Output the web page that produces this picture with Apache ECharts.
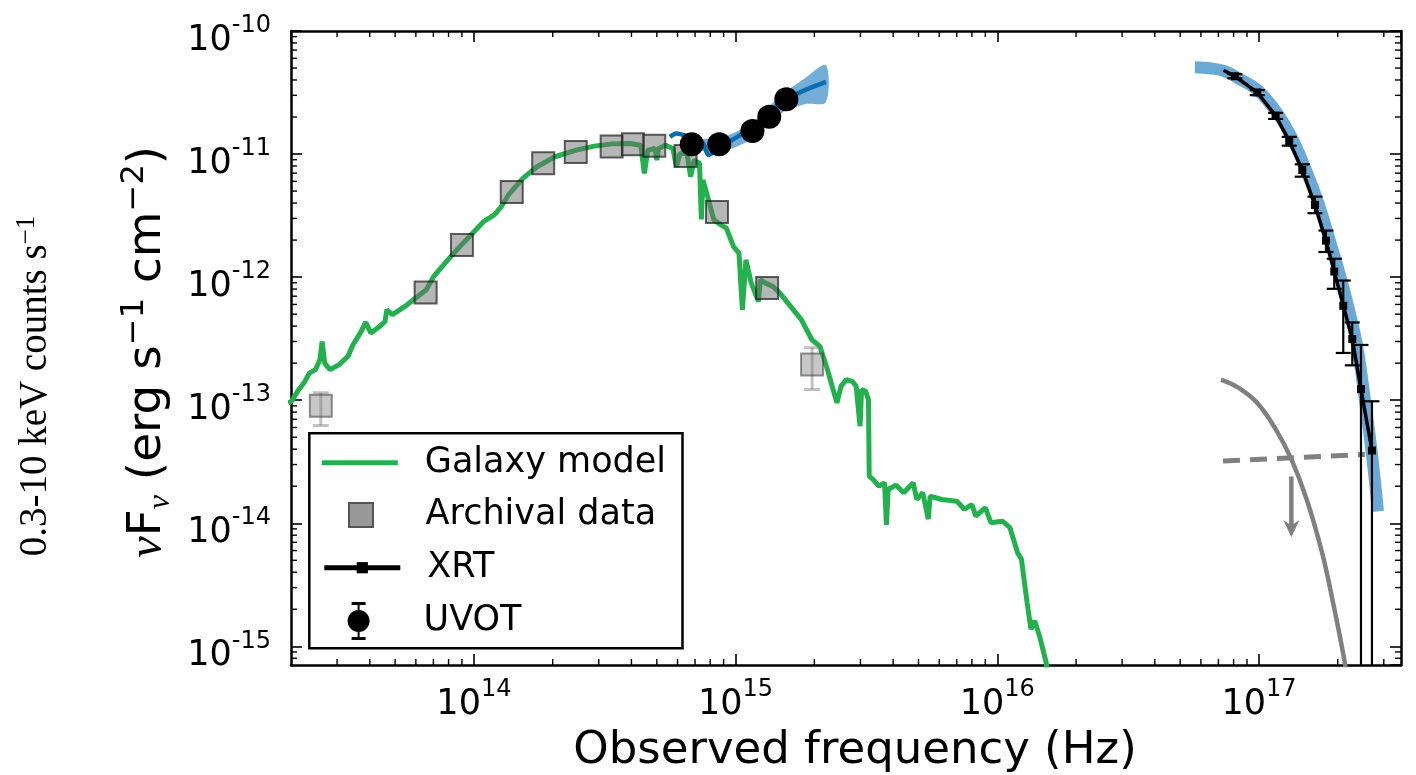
<!DOCTYPE html>
<html><head><meta charset="utf-8">
<script src="https://cdn.jsdelivr.net/npm/echarts@6/dist/echarts.min.js"></script>
<style>html,body{margin:0;padding:0;background:#fff}#c{width:1416px;height:775px}</style>
</head><body><div id="c"></div>
<script>
// ---------- data ----------
const galaxyNu = [1.95e13,2.01e13,2.12e13,2.26e13,2.35e13,2.48e13,2.58e13,2.63e13,2.69e13,2.82e13,3.05e13,3.30e13,3.45e13,3.68e13,3.86e13,4.04e13,4.37e13,4.57e13,4.65e13,4.88e13,5.45e13,5.99e13,6.58e13,7.01e13,7.95e13,8.73e13,9.90e13,1.088e14,1.196e14,1.272e14,1.356e14,1.538e14,1.742e14,2.04e14,2.46e14,2.88e14,3.37e14,3.95e14,4.34e14,4.48e14,4.62e14,4.92e14,5.0e14,5.08e14,5.40e14,5.76e14,5.94e14,6.13e14,6.52e14,6.73e14,6.95e14,7.28e14,7.40e14,7.50e14,7.63e14,7.88e14,8.26e14,8.79e14,9.22e14,9.82e14,1.03e15,1.062e15,1.095e15,1.148e15,1.223e15,1.243e15,1.302e15,1.388e15,1.477e15,1.623e15,1.783e15,1.957e15,2.10e15,2.245e15,2.32e15,2.44e15,2.53e15,2.65e15,2.79e15,2.89e15,2.99e15,3.03e15,3.14e15,3.22e15,3.24e15,3.35e15,3.53e15,3.71e15,3.77e15,3.83e15,4.10e15,4.39e15,4.77e15,4.93e15,5.19e15,5.45e15,5.54e15,6.13e15,7.01e15,7.49e15,8.00e15,8.28e15,9.00e15,9.46e15,1.046e16,1.118e16,1.196e16,1.237e16,1.30e16,1.345e16,1.391e16,1.462e16,1.537e16,1.58e16];
const galaxyFlux = [9.5e-14,9.80e-14,1.18e-13,1.42e-13,1.66e-13,1.77e-13,2.13e-13,3.0e-13,2.0e-13,1.77e-13,1.94e-13,2.27e-13,2.82e-13,3.51e-13,4.30e-13,3.51e-13,3.98e-13,4.34e-13,5.43e-13,4.95e-13,5.78e-13,6.76e-13,7.89e-13,1.01e-12,1.38e-12,1.72e-12,2.28e-12,2.82e-12,3.20e-12,3.74e-12,4.65e-12,6.35e-12,7.89e-12,9.51e-12,1.077e-11,1.16e-11,1.21e-11,1.22e-11,1.18e-11,6.97e-12,1.077e-11,1.11e-11,8.94e-12,1.11e-11,1.18e-11,1.11e-11,7.89e-12,1.01e-11,1.01e-11,6.55e-12,8.94e-12,8.41e-12,2.95e-12,6.16e-12,5.43e-12,4.24e-12,2.92e-12,2.66e-12,2.50e-12,1.77e-12,1.57e-12,5.43e-13,1.38e-12,8.94e-13,6.34e-13,9.51e-13,8.94e-13,8.39e-13,7.42e-13,5.78e-13,4.51e-13,3.10e-13,2.74e-13,1.77e-13,1.38e-13,9.51e-14,1.30e-13,1.47e-13,1.42e-13,1.30e-13,6.14e-14,1.22e-13,1.18e-13,1.01e-13,2.41e-14,2.27e-14,2.00e-14,2.13e-14,9.68e-15,1.88e-14,2.04e-14,1.77e-14,2.13e-14,1.56e-14,1.77e-14,1.08e-14,1.66e-14,1.56e-14,1.51e-14,1.30e-14,1.42e-14,1.14e-14,1.34e-14,1.01e-14,1.04e-14,9.21e-15,5.77e-15,5.10e-15,2.27e-15,1.38e-15,1.61e-15,1.14e-15,7.40e-16,5.0e-16];

const archNu = [6.54e13,9.0e13,1.395e14,1.84e14,2.45e14,3.36e14,4.05e14,4.89e14,6.44e14,8.49e14,1.32e15];
const archFlux = [7.50e-13,1.82e-12,4.92e-12,8.41e-12,1.04e-11,1.15e-11,1.20e-11,1.17e-11,9.63e-12,3.39e-12,8.15e-13];
const archFaintNu = [2.60e13,1.96e15];
const archFaintFlux = [9.03e-14,1.95e-13];
const archFaintLow = [6.22e-14,1.22e-13];
const archFaintHigh = [1.15e-13,2.67e-13];

const uvotNu = [6.80e14,8.66e14,1.16e15,1.345e15,1.563e15];
const uvotFlux = [1.20e-11,1.20e-11,1.54e-11,2.01e-11,2.79e-11];
const uvotModelNu = [5.61e14,5.94e14,6.32e14,6.93e14,7.50e14,7.88e14,8.26e14,8.95e14,1.045e15,1.223e15,1.477e15,1.777e15,2.214e15];
const uvotModelFlux = [1.38e-11,1.47e-11,1.43e-11,1.35e-11,1.23e-11,9.81e-12,1.04e-11,1.18e-11,1.43e-11,1.83e-11,2.59e-11,3.20e-11,3.86e-11];
const uvotBandNu = [7.31e14,8.71e14,1.135e15,1.477e15,1.841e15,2.214e15];
const uvotBandHigh = [1.30e-11,1.35e-11,1.75e-11,2.95e-11,4.13e-11,5.27e-11];
const uvotBandLow = [1.077e-11,1.04e-11,1.30e-11,2.11e-11,2.54e-11,2.64e-11];

const xrtNu = [8.09e16,9.85e16,1.158e17,1.305e17,1.464e17,1.637e17,1.803e17,1.94e17,2.10e17,2.273e17,2.454e17,2.703e17];
const xrtFlux = [4.29e-11,3.17e-11,2.05e-11,1.28e-11,7.42e-12,3.86e-12,1.98e-12,1.11e-12,5.85e-13,3.14e-13,1.23e-13,3.90e-14];
const xrtHigh = [4.46e-11,3.31e-11,2.16e-11,1.38e-11,8.25e-12,4.51e-12,2.39e-12,1.41e-12,9.38e-13,4.28e-13,2.81e-13,9.80e-14];
const xrtLow = [4.13e-11,3.01e-11,1.93e-11,1.17e-11,6.55e-12,3.31e-12,1.60e-12,8.04e-13,2.42e-13,1.92e-13,1e-16,1e-16];
const xrtStartNu = 7.32e16, xrtStartFlux = 4.80e-11;
const xrtBandNu = [5.69e16,6.50e16,7.41e16,8.46e16,9.91e16,1.182e17,1.349e17,1.512e17,1.696e17,1.867e17,2.04e17,2.208e17,2.369e17,2.54e17,2.703e17,2.85e17];
const xrtBandFlux = [5.08e-11,4.98e-11,4.71e-11,4.06e-11,3.30e-11,2.11e-11,1.30e-11,7.42e-12,3.86e-12,1.97e-12,1.04e-12,5.43e-13,2.82e-13,1.01e-13,3.62e-14,1.25e-14];

const absModelNu = [7.16e16,8.31e16,9.82e16,1.161e17,1.331e17,1.522e17,1.741e17,1.918e17,2.126e17,2.19e17];
const absModelFlux = [1.47e-13,1.27e-13,9.56e-14,5.77e-14,3.30e-14,1.56e-14,5.81e-15,2.28e-15,7.44e-16,4.49e-16];
const dashedNu = [7.29e16,2.54e17];
const dashedFlux = [3.20e-14,3.62e-14];
const arrowNu = [1.33e17];
const arrowFrom = [2.40e-14];
const arrowTo = [7.68e-15];

const xMin = 2.0e13, xMax = 3.49e17, yMin = 7.05e-16, yMax = 1e-10;

// ---------- helpers ----------
const zip = (a, b) => a.map((v, i) => [v, b[i]]);
function powLabel(v) { const n = Math.round(Math.log10(v)); return '{b|10}{s|' + n + '}'; }
const labelRich = {
  b: { fontSize: 35, fontFamily: 'DejaVu Sans', color: '#000', lineHeight: 44, verticalAlign: 'bottom' },
  s: { fontSize: 24, fontFamily: 'DejaVu Sans', color: '#000', lineHeight: 20, verticalAlign: 'top' }
};
const minorX = [], minorY = [];
for (let d = 13; d <= 17; d++) for (let m = 2; m <= 9; m++) { const v = m * Math.pow(10, d); if (v > xMin && v < xMax) minorX.push([v, yMax]); }
for (let d = -16; d <= -11; d++) for (let m = 2; m <= 9; m++) { const v = m * Math.pow(10, d); if (v > yMin && v < yMax) minorY.push([xMin, v]); }

function errRender(capHalf, color, width) {
  return function (params, api) {
    const cs = params.coordSys;
    const top = api.coord([api.value(0), api.value(3)]);
    const bot = api.coord([api.value(0), api.value(2)]);
    const x = top[0];
    const bottomEdge = cs.y + cs.height;
    const yb = Math.min(bot[1], bottomEdge);
    const st = { stroke: color, lineWidth: width };
    const ch = [
      { type: 'line', shape: { x1: x, y1: top[1], x2: x, y2: yb }, style: st },
      { type: 'line', shape: { x1: x - capHalf, y1: top[1], x2: x + capHalf, y2: top[1] }, style: st }
    ];
    if (bot[1] <= bottomEdge) ch.push({ type: 'line', shape: { x1: x - capHalf, y1: bot[1], x2: x + capHalf, y2: bot[1] }, style: st });
    return { type: 'group', children: ch };
  };
}

const axisBase = {
  type: 'log', logBase: 10, splitLine: { show: false },
  axisLine: { show: true, lineStyle: { color: '#000', width: 2.5 } },
  axisTick: { show: true, inside: true, length: 11, lineStyle: { color: '#000', width: 1.6 } },
  minorTick: { show: false }
};
const legendText = { fontSize: 35, fontFamily: 'DejaVu Sans', color: '#000', lineHeight: 40 };

const chart = echarts.init(document.getElementById('c'), null, { renderer: 'canvas' });
chart.setOption({
  animation: false,
  backgroundColor: '#fff',
  grid: { left: 291, right: 15, top: 31, bottom: 110 },
  xAxis: [
    Object.assign({}, axisBase, { position: 'bottom', min: xMin, max: xMax,
      axisLabel: { show: true, margin: 13, formatter: powLabel, rich: labelRich, showMinLabel: false, showMaxLabel: false } }),
    Object.assign({}, axisBase, { position: 'top', min: xMin, max: xMax, axisLabel: { show: false } })
  ],
  yAxis: [
    Object.assign({}, axisBase, { position: 'left', min: yMin, max: yMax,
      axisLabel: { show: true, margin: 20, formatter: powLabel, rich: labelRich, padding: [10, 0, 0, 0], showMinLabel: false, showMaxLabel: true } }),
    Object.assign({}, axisBase, { position: 'right', min: yMin, max: yMax, axisLabel: { show: false } })
  ],
  legend: [
    { data: ['Galaxy model'], left: 321.8, top: 442.7, orient: 'vertical', padding: 0, selectedMode: false,
      itemWidth: 76, itemHeight: 5, icon: 'rect', z: 5, itemStyle: { color: '#22b14c', opacity: 1 },
      textStyle: Object.assign({ padding: [0, 0, 0, 22] }, legendText) },
    { data: ['Archival data'], left: 348, top: 495, orient: 'vertical', padding: 0, selectedMode: false,
      itemWidth: 24, itemHeight: 24, icon: 'rect', z: 5,
      itemStyle: { color: '#999999', borderColor: '#555555', borderWidth: 2, opacity: 1 },
      textStyle: Object.assign({ padding: [0, 0, 0, 47.6] }, legendText) },
    { data: ['XRT'], left: 321.8, top: 547.7, orient: 'vertical', padding: 0, selectedMode: false,
      itemWidth: 76, itemHeight: 14, z: 5,
      lineStyle: { color: '#000', width: 5, opacity: 1 }, itemStyle: { color: '#000', opacity: 1 },
      textStyle: Object.assign({ padding: [0, 0, 0, 22] }, legendText) },
    { data: [{ name: 'UVOT', icon: 'path://M11,0h2v38h-2Z M5,0h14v3h-14Z M5,35h14v3h-14Z M1,19a11,11 0 1,1 22,0a11,11 0 1,1 -22,0Z' }],
      left: 347.6, top: 601, orient: 'vertical', padding: 0, selectedMode: false,
      itemWidth: 24, itemHeight: 38, z: 5, itemStyle: { color: '#000', opacity: 1 },
      textStyle: Object.assign({ padding: [0, 0, 0, 48] }, legendText) }
  ],
  graphic: [
    { type: 'rect', z: 3, shape: { x: 309.3, y: 433.3, width: 373.2, height: 215 }, style: { fill: '#fff', stroke: '#000', lineWidth: 2.5 } },
    { type: 'text', x: 855, y: 751, z: 5, style: { text: 'Observed frequency (Hz)', fontSize: 45, fontFamily: 'DejaVu Sans', fill: '#000', align: 'center', verticalAlign: 'middle' } },
    { type: 'text', x: 148, y: 352, rotation: Math.PI / 2, z: 5,
      style: { text: '{nu|ν}F{sub|ν} (erg s{sup|−1} cm{sup|−2})', fontSize: 47, fontFamily: 'DejaVu Sans', fill: '#000', align: 'center', verticalAlign: 'middle', lineHeight: 58,
        rich: {
          nu: { fontSize: 49, fontFamily: 'Liberation Serif', fontStyle: 'italic', lineHeight: 58 },
          sub: { fontSize: 32, fontFamily: 'Liberation Serif', fontStyle: 'italic', lineHeight: 32, verticalAlign: 'bottom' },
          sup: { fontSize: 32, fontFamily: 'DejaVu Sans', lineHeight: 29, verticalAlign: 'top' }
        } } },
    { type: 'text', x: 36, y: 386, rotation: Math.PI / 2, z: 5,
      style: { text: '0.3-10 keV counts s{sup|−1}', fontSize: 39, fontFamily: 'Liberation Serif', fill: '#000', align: 'center', verticalAlign: 'middle', lineHeight: 46,
        rich: { sup: { fontSize: 27, fontFamily: 'Liberation Serif', lineHeight: 24, verticalAlign: 'top' } } } }
  ],
  series: [
    { name: 'Galaxy model', type: 'line', data: zip(galaxyNu, galaxyFlux), symbol: 'none', color: '#22b14c',
      lineStyle: { color: '#22b14c', width: 5 }, z: 2, clip: true },
    { name: 'Archival faint', type: 'custom', coordinateSystem: 'cartesian2d', silent: true, z: 3,
      data: archFaintNu.map((v, i) => [v, archFaintFlux[i], archFaintLow[i], archFaintHigh[i]]),
      renderItem: errRender(8, 'rgba(120,120,120,0.45)', 3) },
    { name: 'Archival faint pts', type: 'scatter', data: zip(archFaintNu, archFaintFlux), symbol: 'rect', symbolSize: 22, z: 3,
      itemStyle: { color: 'rgba(130,130,130,0.45)', borderColor: 'rgba(60,60,60,0.55)', borderWidth: 2, opacity: 1 } },
    { name: 'Archival data', type: 'scatter', data: zip(archNu, archFlux), symbol: 'rect', symbolSize: 22, z: 3,
      itemStyle: { color: 'rgba(110,110,110,0.5)', borderColor: 'rgba(30,30,30,0.7)', borderWidth: 2, opacity: 1 } },
    { name: 'UVOT band', type: 'custom', coordinateSystem: 'cartesian2d', silent: true, z: 3,
      data: [[uvotBandNu[0], uvotBandHigh[0]]],
      renderItem: function (params, api) {
        const pts = [];
        for (let i = 0; i < uvotBandNu.length; i++) pts.push(api.coord([uvotBandNu[i], uvotBandHigh[i]]));
        for (let i = uvotBandNu.length - 1; i >= 0; i--) pts.push(api.coord([uvotBandNu[i], uvotBandLow[i]]));
        return { type: 'polygon', shape: { points: pts, smooth: 0.3 }, style: { fill: 'rgba(20,120,190,0.6)' } };
      } },
    { name: 'UVOT model', type: 'line', data: zip(uvotModelNu, uvotModelFlux), symbol: 'none', smooth: 0.3,
      lineStyle: { color: '#0a6db0', width: 4.5 }, z: 4 },
    { name: 'UVOT', type: 'scatter', data: zip(uvotNu, uvotFlux), symbol: 'circle', symbolSize: 24, color: '#000',
      itemStyle: { color: '#000', opacity: 1 }, z: 6 },
    { name: 'XRT band', type: 'line', data: zip(xrtBandNu, xrtBandFlux), symbol: 'none', smooth: 0.4,
      lineStyle: { color: '#6aa9d5', width: 12, cap: 'butt' }, z: 3 },
    { name: 'XRT err', type: 'custom', coordinateSystem: 'cartesian2d', silent: true, z: 5,
      data: xrtNu.map((v, i) => [v, xrtFlux[i], xrtLow[i], xrtHigh[i]]),
      renderItem: errRender(7.5, '#000', 2.2) },
    { name: 'XRT', type: 'line', color: '#000',
      data: [{ value: [xrtStartNu, xrtStartFlux], symbolSize: 0 }].concat(zip(xrtNu, xrtFlux)),
      symbol: 'rect', symbolSize: 8, showSymbol: true, itemStyle: { color: '#000', opacity: 1 },
      lineStyle: { color: '#000', width: 3.5 }, z: 5 },
    { name: 'Absorbed model', type: 'line', data: zip(absModelNu, absModelFlux), symbol: 'none', smooth: 0.4,
      lineStyle: { color: '#808080', width: 4.5 }, z: 2 },
    { name: 'Dashed model', type: 'line', data: zip(dashedNu, dashedFlux), symbol: 'none',
      lineStyle: { color: '#808080', width: 5, type: [17, 10] }, z: 2 },
    { name: 'Upper limit', type: 'custom', coordinateSystem: 'cartesian2d', silent: true, z: 2,
      data: arrowNu.map((v, i) => [v, arrowFrom[i], arrowTo[i]]),
      renderItem: function (params, api) {
        const a = api.coord([api.value(0), api.value(1)]);
        const b = api.coord([api.value(0), api.value(2)]);
        return { type: 'group', children: [
          { type: 'line', shape: { x1: a[0], y1: a[1], x2: b[0], y2: b[1] - 10 }, style: { stroke: '#808080', lineWidth: 4.5 } },
          { type: 'polygon', shape: { points: [[b[0] - 8, b[1] - 17], [b[0], b[1] - 12], [b[0] + 8, b[1] - 17], [b[0], b[1]]] }, style: { fill: '#808080' } }
        ] };
      } },
    { name: 'minor x', type: 'custom', coordinateSystem: 'cartesian2d', silent: true, z: 10, data: minorX,
      renderItem: function (params, api) {
        const cs = params.coordSys; const x = api.coord([api.value(0), api.value(1)])[0];
        const st = { stroke: '#000', lineWidth: 1.4 };
        return { type: 'group', children: [
          { type: 'line', shape: { x1: x, y1: cs.y + cs.height, x2: x, y2: cs.y + cs.height - 6 }, style: st },
          { type: 'line', shape: { x1: x, y1: cs.y, x2: x, y2: cs.y + 6 }, style: st }
        ] };
      } },
    { name: 'minor y', type: 'custom', coordinateSystem: 'cartesian2d', silent: true, z: 10, data: minorY,
      renderItem: function (params, api) {
        const cs = params.coordSys; const y = api.coord([api.value(0), api.value(1)])[1];
        const st = { stroke: '#000', lineWidth: 1.4 };
        return { type: 'group', children: [
          { type: 'line', shape: { x1: cs.x, y1: y, x2: cs.x + 6, y2: y }, style: st },
          { type: 'line', shape: { x1: cs.x + cs.width, y1: y, x2: cs.x + cs.width - 6, y2: y }, style: st }
        ] };
      } }
  ]
});
</script>
</body></html>
